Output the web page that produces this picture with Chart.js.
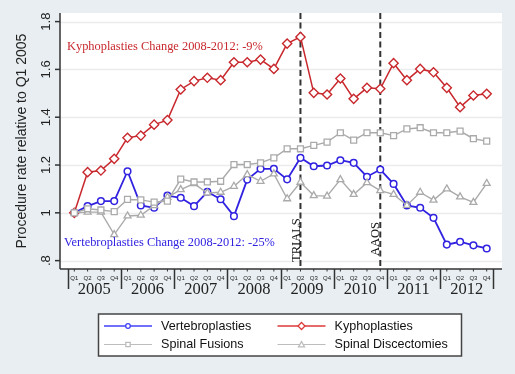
<!DOCTYPE html>
<html>
<head>
<meta charset="utf-8">
<script src="https://cdn.jsdelivr.net/npm/chart.js@4.4.0/dist/chart.umd.min.js"></script>
<style>
  html, body { margin: 0; padding: 0; background: #e8eef1; }
</style>
</head>
<body>
<canvas id="chart" width="515" height="374"></canvas>
<script>
// --- Datos (trimestrales, 2005 Q1 - 2012 Q4) ---
const years = ['2005', '2006', '2007', '2008', '2009', '2010', '2011', '2012'];
const quarters = ['Q1', 'Q2', 'Q3', 'Q4'];
const yTicks = [0.8, 1, 1.2, 1.4, 1.6, 1.8];
const yTickLabels = ['.8', '1', '1.2', '1.4', '1.6', '1.8'];

const vertebroplasties = [1.000, 1.028, 1.049, 1.049, 1.174, 1.031, 1.021, 1.072,
                          1.063, 1.028, 1.088, 1.057, 0.986, 1.139, 1.184, 1.184,
                          1.140, 1.230, 1.195, 1.198, 1.220, 1.209, 1.151, 1.181,
                          1.121, 1.031, 1.021, 0.979, 0.867, 0.879, 0.864, 0.851];
const kyphoplasties = [1.000, 1.170, 1.177, 1.226, 1.314, 1.323, 1.369, 1.388,
                       1.516, 1.551, 1.565, 1.555, 1.630, 1.630, 1.641, 1.602,
                       1.708, 1.736, 1.502, 1.495, 1.562, 1.477, 1.523, 1.519,
                       1.626, 1.555, 1.602, 1.588, 1.523, 1.442, 1.491, 1.498];
const spinalFusions = [1.000, 1.017, 1.012, 1.005, 1.056, 1.054, 1.045, 1.049,
                       1.141, 1.129, 1.129, 1.132, 1.202, 1.202, 1.209, 1.230,
                       1.268, 1.268, 1.282, 1.296, 1.335, 1.304, 1.335, 1.335,
                       1.323, 1.351, 1.356, 1.335, 1.335, 1.342, 1.310, 1.300];
const spinalDiscectomies = [1.000, 1.003, 1.003, 0.909, 0.987, 0.990, 1.030, 1.065,
                            1.097, 1.122, 1.083, 1.086, 1.111, 1.160, 1.132, 1.163,
                            1.059, 1.128, 1.072, 1.070, 1.139, 1.077, 1.126, 1.093,
                            1.077, 1.031, 1.086, 1.053, 1.100, 1.067, 1.044, 1.123];

const eventLabels = ['TRIALS', 'AAOS'];
const eventIndex = [17, 23];

const seriesNames = ['Vertebroplasties', 'Kyphoplasties', 'Spinal Fusions', 'Spinal Discectomies'];
const seriesColors = ['#3022e0', '#c8282d', '#aaaaaa', '#aaaaaa'];

const toPoints = arr => arr.map((v, i) => ({ x: i, y: v }));

// --- Dibujo de un marcador (leyenda) ---
function marker(ctx, style, x, y, r, color) {
    ctx.save();
    ctx.strokeStyle = color;
    ctx.fillStyle = '#fff';
    ctx.lineWidth = 1.3;
    ctx.beginPath();
    if (style === 'circle') {
        ctx.arc(x, y, r, 0, Math.PI * 2);
    } else if (style === 'rectRot') {
        ctx.moveTo(x - r, y); ctx.lineTo(x, y - r); ctx.lineTo(x + r, y); ctx.lineTo(x, y + r); ctx.closePath();
    } else if (style === 'rect') {
        ctx.rect(x - r, y - r, 2 * r, 2 * r);
    } else {
        ctx.moveTo(x, y - r); ctx.lineTo(x + r, y + r * 0.8); ctx.lineTo(x - r, y + r * 0.8); ctx.closePath();
    }
    ctx.fill();
    ctx.stroke();
    ctx.restore();
}

const stataPlugin = {
    id: 'stata',
    beforeDraw(chart) {
        const { ctx, chartArea: a, scales: { x, y } } = chart;
        ctx.save();
        ctx.fillStyle = '#e8eef1';
        ctx.fillRect(0, 0, chart.width, chart.height);
        ctx.fillStyle = '#ffffff';
        ctx.fillRect(a.left, a.top, a.right - a.left, a.bottom - a.top);
        // líneas de la cuadrícula
        ctx.strokeStyle = '#eaeced';
        ctx.lineWidth = 1.5;
        yTicks.forEach(t => {
            const py = Math.round(y.getPixelForValue(t)) + 0.5;
            ctx.beginPath(); ctx.moveTo(a.left, py); ctx.lineTo(a.right, py); ctx.stroke();
        });
        ctx.restore();
    },
    beforeDatasetsDraw(chart) {
        const { ctx, chartArea: a, scales: { x } } = chart;
        ctx.save();
        ctx.strokeStyle = '#333';
        ctx.lineWidth = 2;
        ctx.setLineDash([6, 3.5]);
        eventIndex.forEach(i => {
            const px = x.getPixelForValue(i);
            ctx.beginPath(); ctx.moveTo(px, a.top); ctx.lineTo(px, a.bottom); ctx.stroke();
        });
        ctx.setLineDash([]);
        // etiquetas verticales de eventos
        ctx.fillStyle = '#111';
        ctx.font = "12.5px 'Liberation Serif'";
        ctx.textAlign = 'left';
        ctx.textBaseline = 'alphabetic';
        const bottoms = [262, 256];
        eventIndex.forEach((i, k) => {
            const px = x.getPixelForValue(i) - 0.8;
            ctx.save();
            ctx.translate(px, bottoms[k]);
            ctx.rotate(-Math.PI / 2);
            ctx.fillText(eventLabels[k], 0, 0);
            ctx.restore();
        });
        ctx.restore();
    },
    afterDraw(chart) {
        const { ctx, chartArea: a, scales: { x, y } } = chart;
        ctx.save();
        ctx.strokeStyle = '#333';
        ctx.fillStyle = '#222';
        ctx.lineWidth = 1.5;

        // eje Y
        ctx.beginPath(); ctx.moveTo(a.left, a.top); ctx.lineTo(a.left, a.bottom); ctx.stroke();
        ctx.font = "13px 'Liberation Sans'";
        ctx.textAlign = 'center';
        ctx.textBaseline = 'middle';
        yTicks.forEach((t, k) => {
            const py = y.getPixelForValue(t);
            ctx.beginPath(); ctx.moveTo(a.left - 5, py); ctx.lineTo(a.left, py); ctx.stroke();
            ctx.save();
            ctx.translate(46, py);
            ctx.rotate(-Math.PI / 2);
            ctx.fillText(yTickLabels[k], 0, 0);
            ctx.restore();
        });
        ctx.save();
        ctx.font = "14px 'Liberation Sans'";
        ctx.translate(22, (a.top + a.bottom) / 2);
        ctx.rotate(-Math.PI / 2);
        ctx.fillText('Procedure rate relative to Q1 2005', 0, 0);
        ctx.restore();

        // eje X
        ctx.beginPath(); ctx.moveTo(a.left, a.bottom); ctx.lineTo(a.right, a.bottom); ctx.stroke();
        ctx.lineWidth = 1;
        ctx.font = "6px 'Liberation Sans'";
        for (let i = 0; i < years.length * 4; i++) {
            const px = x.getPixelForValue(i);
            ctx.beginPath(); ctx.moveTo(px, a.bottom); ctx.lineTo(px, a.bottom + 2.5); ctx.stroke();
            ctx.fillText(quarters[i % 4], px, a.bottom + 9);
        }
        ctx.lineWidth = 1.5;
        for (let k = 0; k <= years.length; k++) {
            const px = Math.round(x.getPixelForValue(k * 4 - 0.5)) + 0.5;
            ctx.beginPath(); ctx.moveTo(px, a.bottom); ctx.lineTo(px, a.bottom + 20); ctx.stroke();
        }
        ctx.font = "16.5px 'Liberation Serif'";
        years.forEach((yr, k) => {
            const px = x.getPixelForValue(k * 4 + 1.5);
            ctx.fillText(yr, px, a.bottom + 21);
        });

        // textos de cambio
        ctx.textAlign = 'left';
        ctx.font = "12.4px 'Liberation Serif'";
        ctx.fillStyle = '#c8282d';
        ctx.fillText('Kyphoplasties Change 2008-2012: -9%', 67, 47);
        ctx.fillStyle = '#3022e0';
        ctx.fillText('Vertebroplasties Change 2008-2012: -25%', 64, 243);

        // leyenda
        ctx.fillStyle = '#ffffff';
        ctx.fillRect(98.5, 314, 363, 42);
        ctx.strokeStyle = '#444';
        ctx.lineWidth = 1.5;
        ctx.strokeRect(98.5, 314, 363, 42);
        const lx = [104, 277.5];
        const ly = [326, 344.5];
        const styles = ['circle', 'rectRot', 'rect', 'triangle'];
        const sizes = [2.3, 3.5, 2.2, 3];
        ctx.font = "12.6px 'Liberation Sans'";
        ctx.textBaseline = 'middle';
        seriesNames.forEach((name, k) => {
            const cx = lx[k % 2], cy = ly[Math.floor(k / 2)];
            ctx.strokeStyle = k < 2 ? (k === 0 ? '#4040f8' : '#dd3a3a') : '#bdbdbd';
            ctx.lineWidth = k < 2 ? 1.6 : 1.2;
            ctx.beginPath(); ctx.moveTo(cx, cy); ctx.lineTo(cx + 48, cy); ctx.stroke();
            marker(ctx, styles[k], cx + 24, cy, sizes[k], ctx.strokeStyle);
            ctx.fillStyle = '#111';
            ctx.fillText(name, cx + 57, cy + 0.5);
        });
        ctx.restore();
    }
};

const common = { fill: false, tension: 0, pointBackgroundColor: '#ffffff', pointHoverRadius: 4 };

new Chart(document.getElementById('chart'), {
    type: 'line',
    data: {
        datasets: [
            { ...common, label: seriesNames[2], data: toPoints(spinalFusions), borderColor: seriesColors[2], borderWidth: 1.4,
              pointStyle: 'rect', pointRadius: 4.2, pointBorderColor: seriesColors[2], pointBorderWidth: 1.3 },
            { ...common, label: seriesNames[3], data: toPoints(spinalDiscectomies), borderColor: seriesColors[3], borderWidth: 1.4,
              pointStyle: 'triangle', pointRadius: 4, pointBorderColor: seriesColors[3], pointBorderWidth: 1.3 },
            { ...common, label: seriesNames[1], data: toPoints(kyphoplasties), borderColor: seriesColors[1], borderWidth: 1.5,
              pointStyle: 'rectRot', pointRadius: 4.6, pointBorderColor: seriesColors[1], pointBorderWidth: 1.4 },
            { ...common, label: seriesNames[0], data: toPoints(vertebroplasties), borderColor: seriesColors[0], borderWidth: 1.8,
              pointStyle: 'circle', pointRadius: 3.3, pointBorderColor: seriesColors[0], pointBorderWidth: 1.5 }
        ]
    },
    options: {
        responsive: false,
        animation: false,
        layout: { padding: { left: 60, right: 13, top: 13, bottom: 105 } },
        plugins: { legend: { display: false }, tooltip: { enabled: false } },
        scales: {
            x: { type: 'linear', min: -1.075, max: 32.15, display: false },
            y: { type: 'linear', min: 0.765, max: 1.836, display: false }
        }
    },
    plugins: [stataPlugin]
});
</script>
</body>
</html>
